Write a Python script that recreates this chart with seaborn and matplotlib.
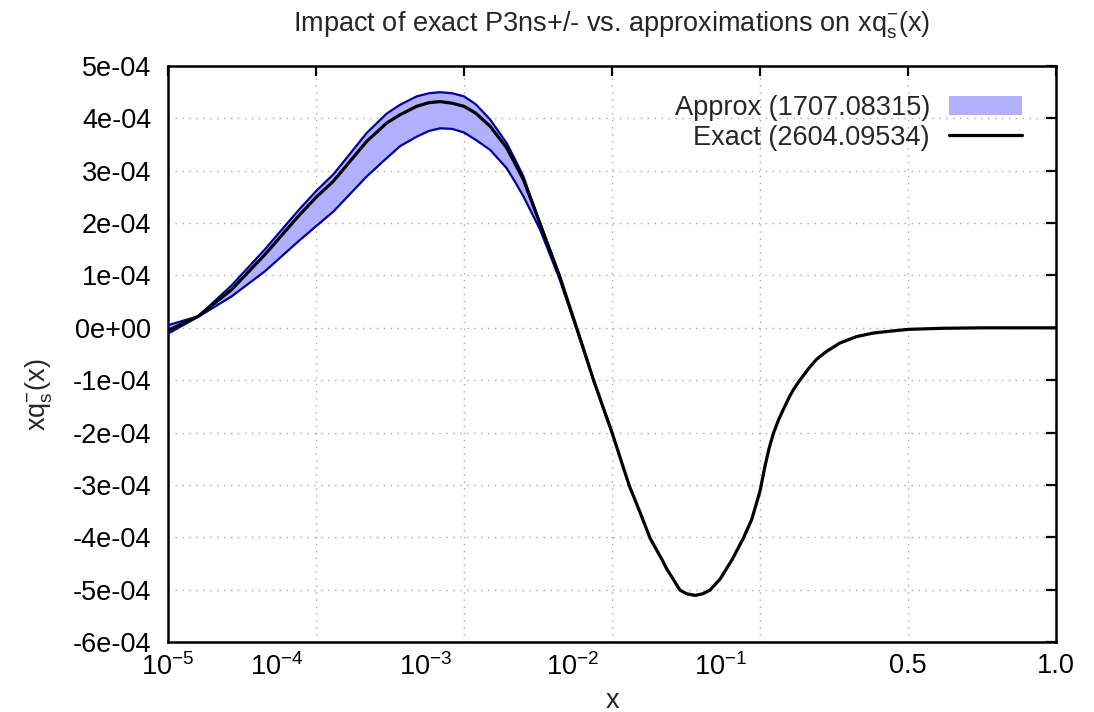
import numpy as np
import pandas as pd
import matplotlib
matplotlib.use("Agg")
import matplotlib.pyplot as plt
import matplotlib.transforms as mtransforms
from matplotlib.patches import Patch
from matplotlib.lines import Line2D
from matplotlib.ticker import FixedLocator, FuncFormatter
import seaborn as sns

# ---------------- data (y values in units of 1e-4) ----------------
exact_x = [1.0e-5, 1.6e-5, 2.69e-5, 4.52e-5, 7.59e-5, 1.0e-4, 1.31e-4, 2.2e-4,
           3.0e-4, 3.7e-4, 4.79e-4, 5.8e-4, 6.89e-4, 8.3e-4, 1.0e-3, 1.2e-3,
           1.5e-3, 1.94e-3, 2.2e-3, 2.52e-3, 3.26e-3, 4.41e-3, 5.77e-3, 7.55e-3,
           1.0e-2, 1.31e-2, 1.55e-2, 1.81e-2, 2.2e-2, 2.35e-2, 2.59e-2, 2.75e-2,
           2.88e-2, 3.2e-2, 3.64e-2, 4.1e-2, 4.59e-2, 5.37e-2, 6.5e-2, 7.71e-2,
           8.79e-2, 0.1, 0.1135, 0.125, 0.136, 0.15, 0.163, 0.18, 0.19, 0.2035,
           0.23, 0.253, 0.28, 0.316, 0.36, 0.406, 0.45, 0.5, 0.608, 0.75, 1.0]
exact_y = [-0.05, 0.22, 0.73, 1.40, 2.13, 2.49, 2.80, 3.56,
           3.91, 4.07, 4.23, 4.30, 4.32, 4.29, 4.23, 4.10,
           3.85, 3.44, 3.15, 2.83, 1.99, 1.00, 0.00, -1.02,
           -2.00, -3.02, -3.53, -4.02, -4.45, -4.61, -4.80, -4.92,
           -5.01, -5.08, -5.11, -5.08, -5.01, -4.80, -4.42, -4.02,
           -3.66, -3.12, -2.64, -2.29, -2.02, -1.76, -1.56, -1.31, -1.185, -1.04,
           -0.79, -0.60, -0.45, -0.29, -0.17, -0.10, -0.065, -0.03, -0.01, 0.00, 0.00]

band_x = [1.0e-5, 1.6e-5, 2.69e-5, 4.52e-5, 7.59e-5, 1.0e-4, 1.31e-4, 2.2e-4,
          3.0e-4, 3.7e-4, 4.79e-4, 5.8e-4, 6.89e-4, 8.3e-4, 1.0e-3, 1.2e-3,
          1.5e-3, 1.94e-3, 2.2e-3, 2.52e-3, 3.26e-3, 4.41e-3, 5.77e-3, 7.55e-3,
          1.0e-2]
band_hi = [0.05, 0.22, 0.81, 1.50, 2.24, 2.61, 2.93, 3.72,
           4.09, 4.26, 4.42, 4.48, 4.50, 4.48, 4.42, 4.27,
           3.98, 3.53, 3.23, 2.89, 2.01, 1.00, 0.00, -1.02,
           -2.00]
band_lo = [-0.11, 0.21, 0.60, 1.08, 1.65, 1.94, 2.22, 2.89,
           3.24, 3.47, 3.65, 3.76, 3.81, 3.80, 3.73, 3.59,
           3.40, 3.05, 2.80, 2.51, 1.88, 0.94, -0.03, -1.03,
           -2.00]

x_tick_vals = [1e-5, 1e-4, 1e-3, 1e-2, 1e-1, 0.5, 1.0]
x_tick_labels = [r'$\mathregular{10^{-5}}$', r'$\mathregular{10^{-4}}$',
                 r'$\mathregular{10^{-3}}$', r'$\mathregular{10^{-2}}$',
                 r'$\mathregular{10^{-1}}$', '0.5', '1.0']
y_tick_vals = [-6, -5, -4, -3, -2, -1, 0, 1, 2, 3, 4, 5]

label_approx = "Approx (1707.08315)"
label_exact = "Exact (2604.09534)"
title = r"Impact of exact P3ns+/- vs. approximations on xq$_{\mathregular{s}}^{\mathregular{-}}$(x)"
ylabel = r"xq$_{\mathregular{s}}^{\mathregular{-}}$(x)"
xlabel = "x"

SCALE = 1e-4
df_exact = pd.DataFrame({"x": exact_x, "y": np.array(exact_y) * SCALE})
df_band = pd.DataFrame({"x": band_x, "lo": np.array(band_lo) * SCALE,
                        "hi": np.array(band_hi) * SCALE})

# ---------------- style ----------------
sns.set_style("white")
plt.rcParams['font.family'] = ['Liberation Sans', 'DejaVu Sans']
plt.rcParams['mathtext.fontset'] = 'custom'
plt.rcParams['mathtext.rm'] = 'Liberation Sans'
plt.rcParams['mathtext.it'] = 'Liberation Sans:italic'
plt.rcParams['mathtext.bf'] = 'Liberation Sans:bold'
FS = 19.5

fig = plt.figure(figsize=(10.94, 7.12), dpi=100)
fig.patch.set_facecolor("white")
ax = fig.add_axes([168 / 1094, 1 - 642 / 712, (1056 - 168) / 1094, (642 - 66) / 712])


# piecewise x-axis: log below 0.1, then 0.1 -> 0.5 -> 1.0 in equal steps
def fwd(x):
    x = np.asarray(x, dtype=float)
    with np.errstate(divide="ignore", invalid="ignore"):
        lg = np.log10(np.clip(x, 1e-300, None))
    return np.where(x <= 0.1, lg,
                    np.where(x <= 0.5, -1 + (x - 0.1) / 0.4, (x - 0.5) / 0.5))


def inv(u):
    u = np.asarray(u, dtype=float)
    with np.errstate(over="ignore"):
        p = np.power(10.0, np.clip(u, -300, 300))
    return np.where(u <= -1, p,
                    np.where(u <= 0, 0.1 + (u + 1) * 0.4, 0.5 + u * 0.5))


ax.set_xscale("function", functions=(fwd, inv))

# band
ax.fill_between(df_band["x"], df_band["lo"], df_band["hi"],
                color="#b0b0ff", linewidth=0, zorder=2)
sns.lineplot(data=df_band, x="x", y="hi", ax=ax, color="#00009a", lw=1.6,
             zorder=3, legend=False, estimator=None)
sns.lineplot(data=df_band, x="x", y="lo", ax=ax, color="#00009a", lw=1.6,
             zorder=3, legend=False, estimator=None)
# exact
sns.lineplot(data=df_exact, x="x", y="y", ax=ax, color="black", lw=2.3,
             zorder=4, legend=False, estimator=None)

ax.set_xlim(1e-5, 1.0)
ax.set_ylim(-6e-4, 5e-4)

ax.xaxis.set_major_locator(FixedLocator(x_tick_vals))
ax.set_xticks(x_tick_vals)
ax.set_xticklabels(x_tick_labels)
ax.xaxis.set_minor_locator(FixedLocator([]))
ax.set_yticks(np.array(y_tick_vals) * SCALE)
ax.yaxis.set_major_formatter(FuncFormatter(lambda v, p: f"{v:.0e}"))

ax.grid(True, which="major", color="#a8a8a8", linestyle=(0, (1, 4)), lw=1.0)
ax.set_axisbelow(True)

ax.tick_params(axis="both", which="major", direction="in", length=7, width=1.6,
               top=True, right=True, labelsize=FS, colors="black")
ax.tick_params(axis="y", pad=12)
ax.tick_params(axis="x", pad=8)
for s in ax.spines.values():
    s.set_linewidth(1.8)
    s.set_color("black")

# shift the decade labels like in the reference
offsets = [0, -39, -38, -39, -39, 0, 0]
for lab, off in zip(ax.get_xticklabels(), offsets):
    if off:
        lab.set_transform(lab.get_transform() +
                          mtransforms.ScaledTranslation(off / 100, 0, fig.dpi_scale_trans))

ax.set_title(title, fontsize=FS, pad=25)
ax.set_xlabel(xlabel, fontsize=FS, labelpad=5)
ax.set_ylabel(ylabel, fontsize=FS)
ax.yaxis.set_label_coords(-0.1275, 0.43)

handles = [Patch(facecolor="#b0b0ff", edgecolor="none"),
           Line2D([], [], color="black", lw=2.3)]
ax.legend(handles, [label_approx, label_exact], loc="upper right",
          bbox_to_anchor=(0.974, 0.969), markerfirst=False, frameon=False,
          fontsize=FS, handlelength=2.7, handletextpad=0.7, labelspacing=0.15,
          borderaxespad=0)

fig.savefig("out.png", dpi=100)
